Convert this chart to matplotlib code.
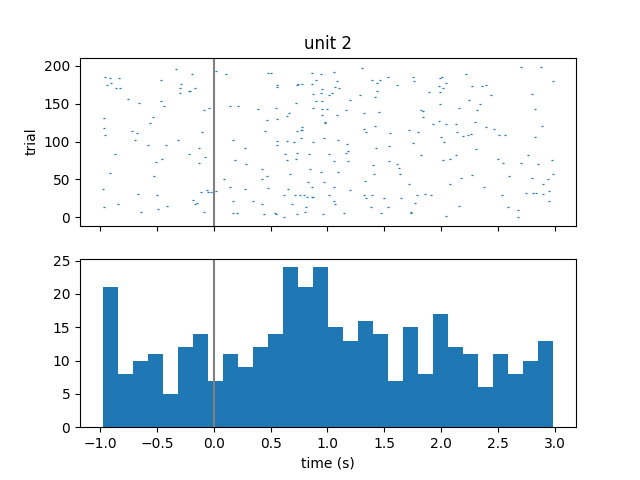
import numpy as np
import matplotlib
matplotlib.use("Agg")
import matplotlib.pyplot as plt

# spike raster (time in s, trial index)
spike_times = [
    -0.33, -0.19, 0.02, -0.96, -0.91, -0.835, -0.465, -0.905, -0.94, -0.29,
    -0.86, -0.83, -0.30, -0.165, -0.22, -0.21, -0.30, -0.76, -0.66, -0.465,
    -0.44, -0.04, -0.085, -0.97, -0.535, -0.56, -0.97, -0.96, -0.72, -0.68,
    -0.10, -0.69, -0.32, -0.58, -0.42,
    0.11, 0.48, 0.505, 0.86, 0.945, 1.06, 0.90, 1.08, 0.56, 0.56,
    0.73, 0.74, 0.78, 0.86, 0.955, 1.07, 1.105, 0.87, 0.945, 1.01,
    1.04, 0.90, 0.955, 0.14, 0.215, 0.39, 0.55, 0.725, 0.875, 0.955,
    1.0, 0.665, 0.645, 0.955, 1.08, 0.47, 0.56, 0.98, 0.98, 0.78,
    0.765, 0.78, 0.735, 0.45, 0.77, 0.97, 0.17, 0.56, 0.645, 0.71,
    0.875, 1.09, 0.56,
    1.30, 1.39, 1.46, 1.44, 1.53, 1.75, 1.76, 1.61, 1.99, 2.01,
    2.04, 1.98, 2.02, 1.44, 1.89, 1.99, 1.29, 1.42, 1.20, 1.99,
    1.16, 1.32, 1.45, 1.82, 1.84, 1.84, 2.16, 1.93, 1.98, 2.04,
    2.13, 1.42, 1.32, 1.34, 1.55, 1.72, 1.80, 2.14, 2.00, 2.03,
    1.17, 1.75,
    2.70, 2.88, 2.22, 2.99, 2.27, 2.36, 2.40, 2.44, 2.80, 2.25,
    2.34, 2.32, 2.83, 2.30, 2.40, 2.47, 2.89, 2.19, 2.24, 2.26,
    2.51, 2.56, 2.83,
    -0.13, -0.87, -0.22, -0.08, -0.455, -0.51, -0.13, -0.91, -0.53, -0.98,
    -0.67, -0.50, -0.11, -0.06, -0.05, -0.025, 0.02, -0.18, -0.15, -0.17,
    -0.84, -0.97, -0.41, -0.64, -0.49, -0.09,
    0.27, 0.63, 0.735, 0.84, 1.01, 0.19, 0.64, 0.725, 1.06, 0.285,
    0.42, 0.85, 0.945, 1.095, 0.67, 0.47, 0.09, 0.425, 0.83, 0.97,
    0.14, 0.48, 0.86, 1.06, 0.27, 0.655, 0.62, 0.715, 0.76, 0.79,
    0.82, 0.86, 0.87, 1.01, 0.17, 0.345, 0.425, 0.69, 0.81, 1.06,
    1.07, 0.17, 0.205, 0.445, 0.54, 0.55, 0.62, 0.735, 0.80, 0.965,
    1.43, 1.54, 1.18, 1.16, 1.82, 2.13, 2.075, 2.02, 1.18, 1.54,
    1.40, 1.61, 1.63, 1.41, 1.635, 1.335, 1.72, 2.075, 1.20, 1.32,
    1.39, 1.34, 1.50, 1.65, 1.785, 1.86, 1.91, 1.77, 1.38, 1.53,
    1.15, 1.47, 1.74, 1.74, 2.04, 2.155,
    2.31, 2.50, 2.55, 2.77, 2.70, 2.85, 2.975, 2.18, 2.27, 2.60,
    2.80, 2.99, 2.94, 2.90, 2.375, 2.54, 2.745, 2.81, 2.84, 2.90,
    2.95, 2.95, 2.59, 2.68, 2.675,
]
spike_trials = [
    196, 189, 193, 186, 184, 184, 181, 178, 175, 176,
    171, 171, 171, 171, 167, 167, 164, 156, 151, 153,
    147, 144, 142, 131, 132, 125, 118, 109, 114, 111,
    113, 102, 102, 96, 96,
    189, 190, 190, 190, 189, 192, 182, 180, 175, 172,
    175, 176, 176, 176, 169, 172, 171, 163, 164, 161,
    164, 153, 153, 147, 147, 143, 144, 151, 144, 143,
    143, 138, 134, 135, 135, 129, 130, 124, 126, 119,
    115, 115, 114, 114, 105, 105, 102, 101, 101, 100,
    100, 102, 96,
    197, 181, 181, 177, 186, 185, 180, 175, 184, 185,
    177, 173, 171, 167, 165, 165, 161, 159, 155, 150,
    142, 138, 139, 142, 141, 132, 144, 123, 127, 123,
    123, 121, 117, 113, 111, 115, 113, 113, 106, 100,
    97, 98,
    198, 198, 189, 180, 173, 173, 175, 161, 163, 155,
    150, 142, 143, 126, 119, 117, 121, 107, 109, 110,
    109, 109, 106,
    92, 84, 84, 79, 77, 73, 72, 59, 55, 38,
    31, 29, 34, 36, 34, 34, 35, 23, 19, 17,
    17, 13, 15, 7, 11, 7,
    92, 84, 85, 84, 84, 76, 76, 77, 75, 71,
    64, 64, 60, 60, 57, 54, 50, 50, 46, 46,
    40, 39, 40, 40, 38, 38, 30, 30, 29, 30,
    27, 27, 27, 30, 21, 22, 18, 17, 14, 21,
    17, 5, 5, 4, 5, 4, 0, 4, 7, 4,
    92, 94, 88, 85, 82, 82, 77, 76, 75, 75,
    69, 71, 65, 57, 57, 48, 44, 44, 36, 30,
    30, 25, 26, 26, 30, 31, 30, 19, 14, 14,
    6, 5, 6, 7, 2, 15,
    90, 77, 72, 82, 72, 71, 76, 52, 56, 54,
    52, 57, 51, 44, 40, 30, 32, 32, 32, 31,
    35, 22, 14, 10, 0,
]

# PSTH counts (30 bins)
bin_edges = np.linspace(-0.98, 2.99, 31)
counts = [21, 8, 10, 11, 5, 12, 14, 7, 11, 9,
          12, 14, 24, 21, 24, 15, 13, 16, 14, 7,
          15, 8, 17, 12, 11, 6, 11, 8, 10, 13]

fig, (ax1, ax2) = plt.subplots(2, 1, sharex=True)

ax1.plot(spike_times, spike_trials, '_', markersize=1.8, markeredgewidth=0.9)
ax1.axvline(0, color='gray')
ax1.set_ylim(-11, 211)
ax1.set_ylabel('trial')
ax1.set_title('unit 2')

ax2.bar(bin_edges[:-1], counts, width=np.diff(bin_edges), align='edge')
ax2.axvline(0, color='gray')
ax2.set_xlabel('time (s)')

fig.savefig('out.png')
